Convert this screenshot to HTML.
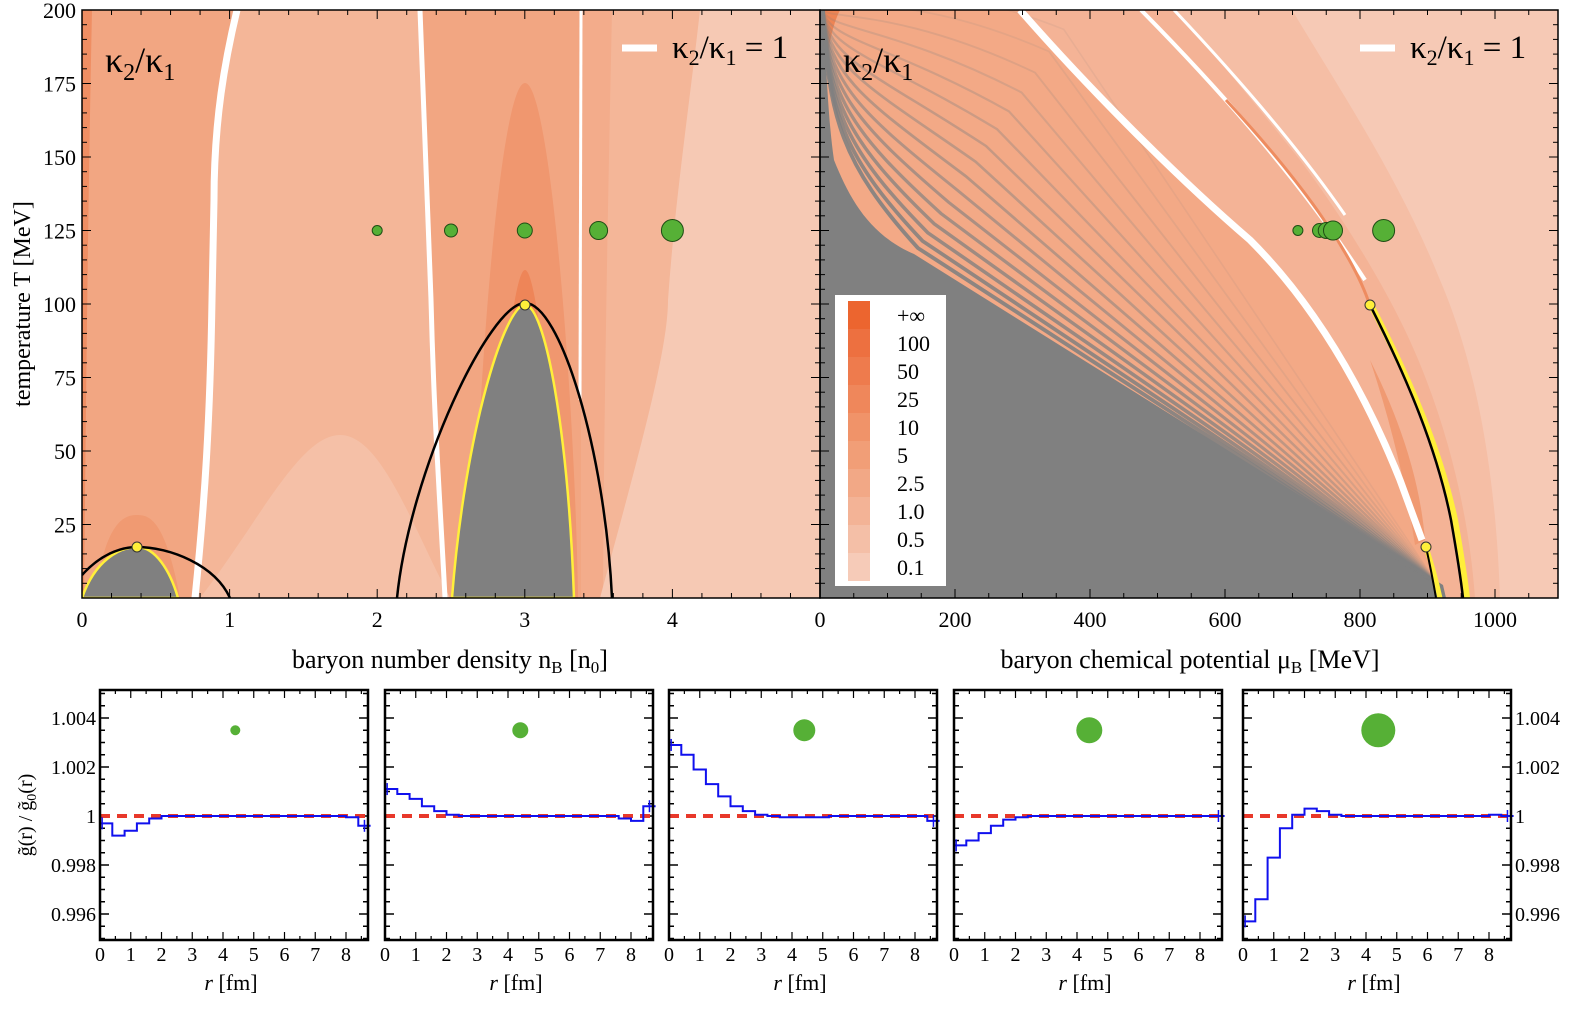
<!DOCTYPE html>
<html><head><meta charset="utf-8"><style>
html,body{margin:0;padding:0;background:#fff}
svg{display:block;font-family:"Liberation Serif",serif}
</style></head><body>
<svg id="fig" width="1590" height="1010" viewBox="0 0 1590 1010" xmlns="http://www.w3.org/2000/svg">
<defs>
<clipPath id="clipL"><rect x="82" y="10" width="738" height="588"/></clipPath>
<clipPath id="clipR"><rect x="820" y="10" width="738" height="588"/></clipPath>
</defs>
<!-- LEFT PANEL -->
<g clip-path="url(#clipL)">
<rect x="82" y="10" width="738" height="588" fill="#f4b698"/>
<path d="M82,10 L237,10 C225,60 214,120 214,200 L212,300 C210,420 205,500 195,598 L82,598Z" fill="#f2a682"/>
<path d="M82,10 L92,10 C88,200 86,400 84,598 L82,598Z" fill="#ef8e63"/>
<path d="M420,10 L581,10 L581,598 L445,598 C440,500 432,400 431,300 Z" fill="#f2a682"/>
<path d="M581,10 L612,10 C608,200 604,400 603,598 L581,598Z" fill="#f3ac8b"/>
<path d="M700,10 L820,10 L820,598 L600,598 C640,450 668,350 668,300 C675,200 690,100 700,10Z" fill="#f6c9b4"/>
<path d="M200,598 C260,520 300,435 340,435 C380,435 410,520 450,598Z" fill="#f5c0a7"/>
<path d="M473,598 C476,400 500,83 525,83 C550,83 575,400 578,598Z" fill="#f0976f"/>
<path d="M490,598 C495,450 512,270 525,270 C538,270 555,450 560,598Z" fill="#ee8558"/>
<path d="M95,598 C105,520 125,515 137,515 C150,515 165,520 180,598Z" fill="#f09a72"/>
<path d="M237,10 C225,60 214,120 214,200 L212,300 C210,420 205,500 195,598" fill="none" stroke="#fff" stroke-width="7"/>
<path d="M420,10 C423,100 428,200 431,300 C434,420 440,500 445,598" fill="none" stroke="#fff" stroke-width="5"/>
<path d="M581,10 L580,400" fill="none" stroke="#fff" stroke-width="3"/>
<path d="M82,598 C95,560 120,547 137,547 C155,547 170,570 178,598Z" fill="#808080" stroke="#ffef3a" stroke-width="2.5"/>
<path d="M452,598 C465,430 505,305 525,305 C545,305 568,430 574,598Z" fill="#808080" stroke="#ffef3a" stroke-width="2.5"/>
<path d="M82,575 C100,555 120,547 137,547 C170,547 215,565 230,598" fill="none" stroke="#000" stroke-width="2.5"/>
<path d="M397,598 C410,470 490,303 525,303 C560,303 605,450 612,598" fill="none" stroke="#000" stroke-width="2.5"/>
<circle cx="137" cy="547" r="5" fill="#ffef3a" stroke="#333"/>
<circle cx="525" cy="305" r="5" fill="#ffef3a" stroke="#333"/>
<g id="dotsL"></g>
</g>
<!-- RIGHT PANEL -->
<g clip-path="url(#clipR)">
<rect x="820" y="10" width="738" height="588" fill="#f3a986"/>
<path d="M1020,10 L1558,10 L1558,598 L1440,598 C1430,560 1415,520 1400,480 C1360,380 1310,300 1250,240 C1180,180 1090,90 1020,10Z" fill="#f4b396"/>
<path d="M1174,10 L1558,10 L1558,598 L1475,598 C1468,500 1440,400 1400,320 C1370,260 1330,200 1300,160 C1260,110 1220,60 1174,10Z" fill="#f5bea5"/>
<path d="M1292,10 L1558,10 L1558,598 L1500,598 C1495,450 1470,350 1440,280 C1400,180 1340,90 1292,10Z" fill="#f6c9b5"/>
<path d="M1370,360 C1400,420 1420,480 1425,540 L1415,545 C1405,480 1390,420 1370,360Z" fill="#f09a72"/>
<path d="M820,10 L840,10 C830,30 826,60 824,100 L820,200Z" fill="#ee8454"/>
<path d="M820,10 L823,10 C826,60 828,120 834,160 C850,200 870,235 914,254 L1443,585 L1446,598 L820,598Z" fill="#808080"/>
<g id="stripes"></g>
<path d="M1020,10 C1090,90 1180,180 1250,240 C1310,300 1360,380 1400,480 L1422,540" fill="none" stroke="#fff" stroke-width="7"/>
<path d="M1141,10 C1220,90 1300,180 1365,280" fill="none" stroke="#fff" stroke-width="4"/>
<path d="M1174,10 C1240,80 1300,150 1345,215" fill="none" stroke="#fff" stroke-width="3"/>
<path d="M1226,100 C1300,180 1350,250 1368,300" fill="none" stroke="#ee8c60" stroke-width="3"/>
<path d="M1372,307 C1410,380 1440,450 1455,520 C1462,560 1465,580 1467,598" fill="none" stroke="#ffef3a" stroke-width="6"/>
<path d="M1370,305 C1408,380 1437,450 1451,520 C1458,560 1461,580 1463,598" fill="none" stroke="#000" stroke-width="2.5"/>
<path d="M1426,547 C1432,565 1436,580 1440,598" fill="none" stroke="#ffef3a" stroke-width="5"/>
<path d="M1426,547 C1430,565 1433,580 1436,598" fill="none" stroke="#000" stroke-width="2"/>
<circle cx="1370" cy="305" r="5" fill="#ffef3a" stroke="#333"/>
<circle cx="1426" cy="547" r="5" fill="#ffef3a" stroke="#333"/>
<g id="dotsR"></g>
</g>
<!-- legend of colours -->
<g>
<rect x="835" y="295" width="111" height="291" fill="#fff"/>
<g id="legendItems"></g>
</g>
<g id="axesTop"></g>
<text x="105" y="72" font-size="36">κ<tspan font-size="24" dy="8">2</tspan><tspan dy="-8">/κ</tspan><tspan font-size="24" dy="8">1</tspan></text>
<line x1="622" y1="48" x2="657" y2="48" stroke="#fff" stroke-width="7"/>
<text x="672" y="58" font-size="33">κ<tspan font-size="22" dy="7">2</tspan><tspan dy="-7">/κ</tspan><tspan font-size="22" dy="7">1</tspan><tspan dy="-7"> = 1</tspan></text>
<text x="843" y="72" font-size="36">κ<tspan font-size="24" dy="8">2</tspan><tspan dy="-8">/κ</tspan><tspan font-size="24" dy="8">1</tspan></text>
<line x1="1360" y1="48" x2="1395" y2="48" stroke="#fff" stroke-width="7"/>
<text x="1410" y="58" font-size="33">κ<tspan font-size="22" dy="7">2</tspan><tspan dy="-7">/κ</tspan><tspan font-size="22" dy="7">1</tspan><tspan dy="-7"> = 1</tspan></text>
<text x="450" y="668" font-size="26" text-anchor="middle">baryon number density n<tspan font-size="17" dy="5">B</tspan><tspan dy="-5"> [n</tspan><tspan font-size="17" dy="5">0</tspan><tspan dy="-5">]</tspan></text>
<text x="1190" y="668" font-size="26" text-anchor="middle">baryon chemical potential μ<tspan font-size="17" dy="5">B</tspan><tspan dy="-5"> [MeV]</tspan></text>
<text transform="translate(30,304) rotate(-90)" font-size="24" text-anchor="middle">temperature T [MeV]</text>
<text transform="translate(32,815) rotate(-90)" font-size="20" text-anchor="middle">g̃(r) / g̃<tspan font-size="14" dy="4">0</tspan><tspan dy="-4">(r)</tspan></text>
<g id="bottom"></g>
</svg>
<script>
const NS="http://www.w3.org/2000/svg";
function mk(tag,attrs,parent){const e=document.createElementNS(NS,tag);for(const k in attrs)e.setAttribute(k,attrs[k]);parent.appendChild(e);return e;}

// ===== top panels data =====
const densityTicks=[0,1,2,3,4];
const muTicks=[0,200,400,600,800,1000];
const tempTicks=[25,50,75,100,125,150,175,200];
const dotDensities=[2.0,2.5,3.0,3.5,4.0];
const dotRadii=[5,6.5,7.5,9,11];
const dotTemp=125;
const dotMus=[708,740,750,760,835];
const dotRadiiR=[5,7,8,9.5,11];
const legendLabels=["+∞","100","50","25","10","5","2.5","1.0","0.5","0.1"];
const legendColors=["#ec652f","#ed7040","#ee7b4d","#ef875b","#f09369","#f19e77","#f2a886","#f3b396","#f4bfa7","#f6cbb8"];

function xL(n){return 82+n*147.6;}
function xR(m){return 820+m*0.675;}
function yT(t){return 598-t*2.94;}

const dL=document.getElementById('dotsL');
dotDensities.forEach((n,i)=>{const c=mk('circle',{cx:xL(n),cy:yT(dotTemp),r:dotRadii[i],fill:'#56b036',stroke:'#1f4d14','stroke-width':1},dL);

});
const dR=document.getElementById('dotsR');
dotMus.forEach((m,i)=>{const c=mk('circle',{cx:xR(m),cy:yT(dotTemp),r:dotRadiiR[i],fill:'#56b036',stroke:'#1f4d14','stroke-width':1},dR);

});

// stripes in right panel (gray bands between orange dotted lines)
const st=document.getElementById('stripes');
for(let k=1;k<=16;k++){
 const s=k*k*0.6+k*6;
 const op=Math.max(0.1,0.95-k*0.055).toFixed(2);
 const p=mk('path',{d:`M${823},10 C${828},${120-s*0.5} ${840+s*0.3},${170-s*0.8} ${914+s*0.6},${254-s*0.9} L1438,585`,fill:'none',stroke:'#808080','stroke-width':Math.max(1.5,4-k*0.15),'stroke-opacity':op},st);
 
 
}

// legend
const lg=document.getElementById('legendItems');
legendLabels.forEach((lab,i)=>{
 const y=301+i*28;
 const r=mk('rect',{x:848,y:y,width:22,height:28,fill:legendColors[i]},lg);
 
 
 const t=mk('text',{x:897,y:y+22,'font-size':22},lg);t.textContent=lab;
 
 
});

// axes top
const ax=document.getElementById('axesTop');
[[82,820],[820,1558]].forEach(([x0,x1],pi)=>{
 const f=mk('rect',{x:x0,y:10,width:x1-x0,height:588,fill:'none',stroke:'#000','stroke-width':1.5},ax);
 
 
 for(let t=0;t<=200;t+=5){const y=yT(t);const L=(t%25==0)?9:5;
  mk('line',{x1:x0,y1:y,x2:x0+L,y2:y,stroke:'#000','stroke-width':1},ax);
  mk('line',{x1:x1,y1:y,x2:x1-L,y2:y,stroke:'#000','stroke-width':1},ax);}
});
for(let n=0;n<=5;n+=0.2){const x=xL(n);const maj=Math.abs(n-Math.round(n))<0.01;const L=maj?9:5;
 mk('line',{x1:x,y1:598,x2:x,y2:598-L,stroke:'#000'},ax);mk('line',{x1:x,y1:10,x2:x,y2:10+L,stroke:'#000'},ax);}
for(let m=0;m<=1090;m+=50){const x=xR(m);const L=(m%200==0)?9:5;
 mk('line',{x1:x,y1:598,x2:x,y2:598-L,stroke:'#000'},ax);mk('line',{x1:x,y1:10,x2:x,y2:10+L,stroke:'#000'},ax);}
densityTicks.forEach(n=>{const t=mk('text',{x:xL(n),y:627,'font-size':22,'text-anchor':'middle'},ax);t.textContent=n;
 
 });
muTicks.forEach(m=>{const t=mk('text',{x:xR(m),y:627,'font-size':22,'text-anchor':'middle'},ax);t.textContent=m;
 
 });
tempTicks.forEach(v=>{const t=mk('text',{x:76,y:yT(v)+8,'font-size':22,'text-anchor':'end'},ax);t.textContent=v;
 
 });

// ===== bottom panels =====
const rTicks=[0,1,2,3,4,5,6,7,8];
const gTicks=[0.996,0.998,1,1.002,1.004];
const gTickLabels=["0.996","0.998","1","1.002","1.004"];
const binWidth=0.4;
const ratio1=[0.9997,0.9992,0.9994,0.9997,0.9999,1.0,1.0,1.0,1.0,1.0,1.0,1.0,1.0,1.0,1.0,1.0,1.0,1.0,1.0,1.0,0.99995,0.9996];
const ratio2=[1.0011,1.0009,1.0007,1.0004,1.0002,1.00005,1.0,1.0,1.0,1.0,1.0,1.0,1.0,1.0,1.0,1.0,1.0,1.0,1.0,0.9999,0.9998,1.0004];
const ratio3=[1.0029,1.0025,1.0019,1.0013,1.0008,1.0004,1.0002,1.00005,1.0,0.99995,0.99995,0.99995,0.99995,1.0,1.0,1.0,1.0,1.0,1.0,1.0,1.0,0.9998];
const ratio4=[0.9988,0.9990,0.9993,0.9996,0.99985,0.99995,1.0,1.0,1.0,1.0,1.0,1.0,1.0,1.0,1.0,1.0,1.0,1.0,1.0,1.0,1.0,1.0];
const ratio5=[0.9957,0.9966,0.9983,0.9995,1.00005,1.0003,1.0002,1.00005,1.0,1.0,1.0,1.0,1.0,1.0,1.0,1.0,1.0,1.0,1.0,1.0,1.00005,1.0];
const ratios=[ratio1,ratio2,ratio3,ratio4,ratio5];
const markerSizes=[5,8,11,13,17];
const markerR=4.4, markerG=1.0035;
const panelX=[100,385,669,954,1243];
const pw=268, py0=690, ph=250;
const bot=document.getElementById('bottom');
function gy(v){return 816-(v-1)*24500;}
panelX.forEach((x0,pi)=>{
 const g=mk('g',{},bot);
 
 
 const sx=r=>x0+r*30.75;
 for(let r=0;r<=8.6;r+=0.5){const x=sx(r);const L=(Math.abs(r-Math.round(r))<0.01)?8:4;
  mk('line',{x1:x,y1:py0+ph,x2:x,y2:py0+ph-L,stroke:'#000','stroke-width':1.2},g);
  mk('line',{x1:x,y1:py0,x2:x,y2:py0+L,stroke:'#000','stroke-width':1.2},g);}
 for(let v=0.995;v<=1.0051;v+=0.0005){const y=gy(v);if(y<py0||y>py0+ph)continue;
  const maj=Math.abs(v*1000-Math.round(v*1000))<0.01 && Math.round(v*1000)%2==0;const L=maj?9:5;
  mk('line',{x1:x0,y1:y,x2:x0+L,y2:y,stroke:'#000','stroke-width':1.5},g);
  mk('line',{x1:x0+pw,y1:y,x2:x0+pw-L,y2:y,stroke:'#000','stroke-width':1.5},g);}
 const ref=mk('line',{x1:x0,y1:gy(1),x2:x0+pw,y2:gy(1),stroke:'#e8382a','stroke-width':4,'stroke-dasharray':'10 7'},g);
 
 
 const vals=ratios[pi];let d='';
 vals.forEach((v,i)=>{const xa=sx(i*binWidth),xb=sx((i+1)*binWidth),y=gy(v);d+=(i==0?`M${xa},${y}`:`L${xa},${y}`)+`L${xb},${y}`;});
 const h=mk('path',{d:d,fill:'none',stroke:'#1010ee','stroke-width':2},g);
 
 
 const ex=[0,vals.length-1];ex.forEach(i=>{const xc=sx((i+0.5)*binWidth)-(i==0?4:0),y=gy(vals[i]);
  mk('line',{x1:xc,y1:y-6,x2:xc,y2:y+6,stroke:'#1010ee','stroke-width':1.5},g);});
 const c=mk('circle',{cx:sx(markerR),cy:gy(markerG),r:markerSizes[pi],fill:'#56b036'},g);
 
 
 const fr=mk('rect',{x:x0,y:py0,width:pw,height:ph,fill:'none',stroke:'#000','stroke-width':2.5},g);
 
 
 rTicks.forEach(r=>{const t=mk('text',{x:sx(r),y:961,'font-size':20,'text-anchor':'middle'},g);t.textContent=r;
  
  });
 const xt=mk('text',{x:x0+131,y:990,'font-size':22,'text-anchor':'middle'},g);
 xt.innerHTML='<tspan font-style="italic">r</tspan> [fm]';
 
 
});
gTicks.forEach((v,i)=>{
 const t=mk('text',{x:96,y:gy(v)+7,'font-size':20,'text-anchor':'end'},bot);t.textContent=gTickLabels[i];
 
 
 const t2=mk('text',{x:1515,y:gy(v)+7,'font-size':20},bot);t2.textContent=gTickLabels[i];
 
 
});
</script>
</body></html>
